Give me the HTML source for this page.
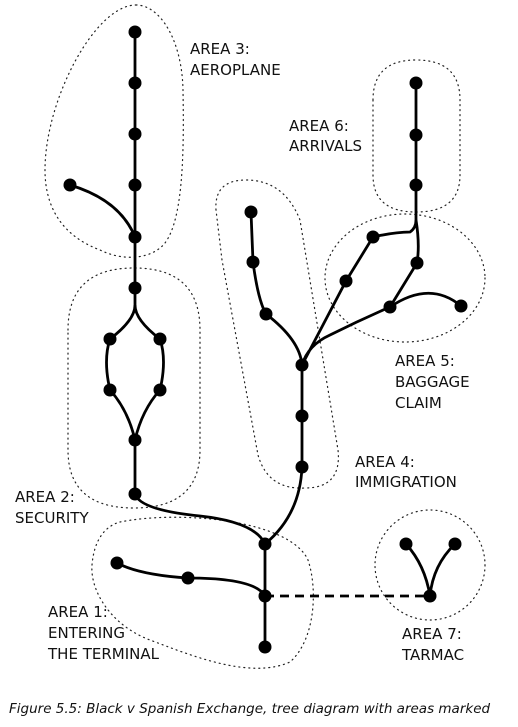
<!DOCTYPE html>
<html><head><meta charset="utf-8"><style>
html,body{margin:0;padding:0;background:#fff;}
svg{display:block;}
text{font-family:"DejaVu Sans","Liberation Sans",sans-serif;font-size:15px;fill:#111;}
</style></head><body>
<svg width="518" height="727" viewBox="0 0 518 727" xmlns="http://www.w3.org/2000/svg">
<g fill="none" stroke="#222" stroke-width="1.2" stroke-dasharray="1 4" stroke-linecap="round">
<path d="M136,5 C160,5 182,40 183,90 C184,150 184,230 160,248 C145,260 120,260 100,250 C60,235 45,205 45,170 C45,100 95,5 136,5 Z"/>
<path d="M68,330 Q68,268 134,268 Q200,268 200,330 L200,450 Q200,508 134,508 Q68,508 68,450 Z"/>
<path d="M216,210 Q214,180 246,180 Q284,180 300,220 L338,450 Q342,488 305,488 Q268,490 258,455 L222,260 Z"/>
<path d="M373,100 Q373,60 416,60 Q460,60 460,100 L460,175 Q460,212 416,212 Q373,212 373,175 Z"/>
<ellipse cx="405" cy="278" rx="80" ry="64"/>
<path d="M120,522 C180,510 290,520 308,560 C318,590 315,640 290,662 C250,680 190,655 150,640 C110,625 90,590 92,565 C94,540 105,526 120,522 Z"/>
<circle cx="430" cy="565" r="55"/>
</g>
<g fill="none" stroke="#000" stroke-width="2.8">
<path d="M135,32 L135,310"/>
<path d="M70,185 Q120,200 135,237"/>
<path d="M135,305 Q135,320 110,339 Q103,360 110,390 Q128,410 135,440 Q142,410 160,390 Q167,360 160,339 Q135,320 135,305"/>
<path d="M135,440 L135,494"/>
<path d="M135,494 Q140,510 200,516 Q255,522 265,544"/>
<path d="M265,544 L265,647"/>
<path d="M117,563 Q140,575 188,578 Q255,578 265,596"/>
<path d="M302,467 Q300,515 265,544"/>
<path d="M251,212 L253,262 Q258,300 266,314 Q300,340 302,365 L302,467"/>
<path d="M302,365 L346,281 L373,237 Q395,232 410,232 Q416,228 416,220 Q420,245 417,263 L390,307 Q360,320 330,335 Q308,345 302,365"/>
<path d="M416,83 L416,225"/>
<path d="M390,307 Q430,280 461,306"/>
<path d="M406,544 Q425,565 430,596 Q433,565 455,544"/>
</g>
<path d="M265,596 L430,596" stroke="#000" stroke-width="2.8" stroke-dasharray="9 6" fill="none"/>
<g fill="#000">
<circle cx="135" cy="32" r="6.5"/><circle cx="135" cy="83" r="6.5"/><circle cx="135" cy="134" r="6.5"/><circle cx="135" cy="185" r="6.5"/><circle cx="135" cy="237" r="6.5"/><circle cx="70" cy="185" r="6.5"/><circle cx="135" cy="288" r="6.5"/>
<circle cx="110" cy="339" r="6.5"/><circle cx="160" cy="339" r="6.5"/><circle cx="110" cy="390" r="6.5"/><circle cx="160" cy="390" r="6.5"/><circle cx="135" cy="440" r="6.5"/><circle cx="135" cy="494" r="6.5"/>
<circle cx="265" cy="544" r="6.5"/><circle cx="265" cy="596" r="6.5"/><circle cx="265" cy="647" r="6.5"/><circle cx="117" cy="563" r="6.5"/><circle cx="188" cy="578" r="6.5"/>
<circle cx="251" cy="212" r="6.5"/><circle cx="253" cy="262" r="6.5"/><circle cx="266" cy="314" r="6.5"/><circle cx="302" cy="365" r="6.5"/><circle cx="302" cy="416" r="6.5"/><circle cx="302" cy="467" r="6.5"/>
<circle cx="346" cy="281" r="6.5"/><circle cx="373" cy="237" r="6.5"/><circle cx="417" cy="263" r="6.5"/><circle cx="390" cy="307" r="6.5"/><circle cx="461" cy="306" r="6.5"/>
<circle cx="416" cy="83" r="6.5"/><circle cx="416" cy="135" r="6.5"/><circle cx="416" cy="185" r="6.5"/>
<circle cx="406" cy="544" r="6.5"/><circle cx="455" cy="544" r="6.5"/><circle cx="430" cy="596" r="6.5"/>
</g>
<text x="190" y="54">AREA 3:</text><text x="190" y="75">AEROPLANE</text>
<text x="289" y="131">AREA 6:</text><text x="289" y="151">ARRIVALS</text>
<text x="395" y="366">AREA 5:</text><text x="395" y="387">BAGGAGE</text><text x="395" y="408">CLAIM</text>
<text x="355" y="467">AREA 4:</text><text x="355" y="487">IMMIGRATION</text>
<text x="15" y="502">AREA 2:</text><text x="15" y="523">SECURITY</text>
<text x="48" y="617">AREA 1:</text><text x="48" y="638">ENTERING</text><text x="48" y="659">THE TERMINAL</text>
<text x="402" y="639">AREA 7:</text><text x="402" y="660">TARMAC</text>
<text x="9" y="713" font-style="italic" style="font-size:13.5px">Figure 5.5:  Black v Spanish Exchange, tree diagram with areas marked</text>
</svg>
</body></html>
